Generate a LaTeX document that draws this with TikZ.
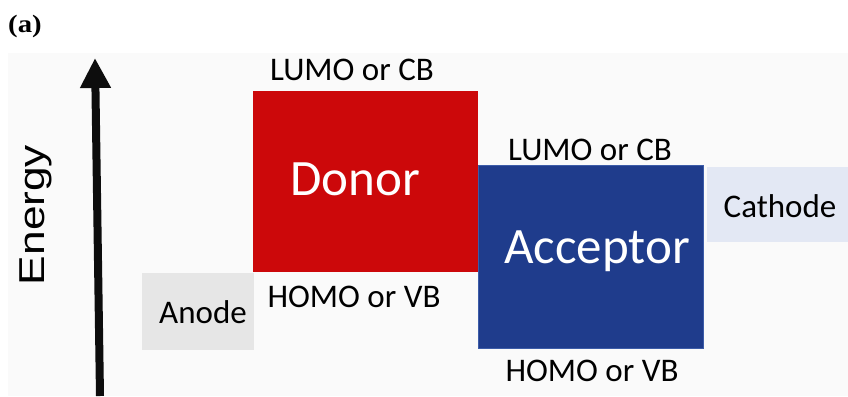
\documentclass[tikz,border=0pt]{standalone}
\usepackage{fontspec}
\usetikzlibrary{arrows.meta}
\newfontfamily\calfont{Carlito}
\newfontfamily\arialfont{Liberation Sans}
\newfontfamily\tagfont{Liberation Serif}
\definecolor{EnRed}{RGB}{204,8,10}
\definecolor{EnBlue}{RGB}{31,60,140}
\definecolor{EnBlueEdge}{RGB}{60,92,168}
\definecolor{EnAnode}{RGB}{230,230,230}
\definecolor{EnCathode}{RGB}{227,232,244}
\definecolor{EnPanel}{RGB}{250,250,250}
\tikzset{
  en/level/.style={
    draw=none,
    inner sep=0pt,
    anchor=north west
  },
  en/label/.style={
    anchor=base,
    inner sep=0pt,
    text=black,
    font=\calfont\fontsize{33}{38}\selectfont
  },
  en/big/.style={
    anchor=base,
    inner sep=0pt,
    text=white,
    font=\calfont\fontsize{51}{60}\selectfont
  },
  en/tag/.style={
    anchor=base west,
    inner sep=0pt,
    text=black,
    font=\tagfont\bfseries\fontsize{25}{30}\selectfont
  },
  en/axis/.style={-{Triangle[length=30pt,width=29pt]}, line width=8pt, draw=black!95}
}

\begin{document}
\begin{tikzpicture}[x=1pt,y=-1pt]
  \useasboundingbox (0,0) rectangle (848,396);
  \fill[white] (0,0) rectangle (848,396);
  \fill[EnPanel] (8,53) rectangle (848,396);
  \node[en/tag] (tag) at (8,33) {\scalebox{1.15}[1]{(a)}};
  % energy axis
  \coordinate (ebot) at (100,396);
  \coordinate (etop) at (95,58);
  \draw[en/axis] (ebot) -- (etop);
  \node[anchor=base,rotate=90,inner sep=0pt,font=\arialfont\fontsize{36}{40}\selectfont] (energy) at (44,215) {\scalebox{1.23}[1]{Energy}};
  % electrodes
  \node[en/level,fill=EnAnode,minimum width=112pt,minimum height=77pt] (anode) at (142,273) {};
  \node[en/level,fill=EnCathode,minimum width=141pt,minimum height=75pt] (cathode) at (707,167) {};
  \node[en/label] at (203,323) {Anode};
  \node[en/label] at (780,217) {Cathode};
  % donor / acceptor levels
  \node[en/level,fill=EnRed,minimum width=225pt,minimum height=181pt] (donor) at (253,91) {};
  \node[en/level,fill=EnBlue,draw=EnBlueEdge,line width=1.2pt,minimum width=225pt,minimum height=183pt] (acceptor) at (478,165) {};
  \node[en/big] at (355,195) {Donor};
  \node[en/big] at (597,263) {Acceptor};
  \node[en/label] at (352,81) {LUMO or CB};
  \node[en/label] at (354,307) {HOMO or VB};
  \node[en/label] at (590,160) {LUMO or CB};
  \node[en/label] at (592,381) {HOMO or VB};
\end{tikzpicture}
\end{document}
